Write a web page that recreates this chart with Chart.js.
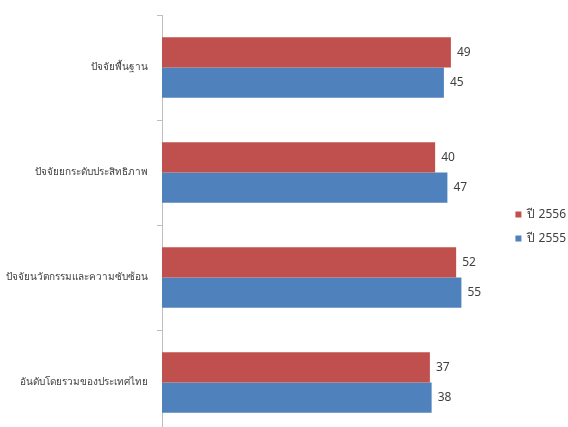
<!DOCTYPE html>
<html>
<head>
<meta charset="utf-8">
<script src="https://cdn.jsdelivr.net/npm/chart.js@4"></script>
<style>
  html, body { margin: 0; padding: 0; background: #fff; overflow: hidden; }
  #wrap { width: 568px; height: 450px; }
</style>
</head>
<body>
<div id="wrap"><canvas id="rank-chart"></canvas></div>
<script>
// Ranking data
const factors = ['ปัจจัยพื้นฐาน', 'ปัจจัยยกระดับประสิทธิภาพ', 'ปัจจัยนวัตกรรมและความซับซ้อน', 'อันดับโดยรวมของประเทศไทย'];
const year2556 = [49, 40, 52, 37];
const year2555 = [45, 47, 55, 38];
const seriesNames = ['ปี 2556', 'ปี 2555'];

const fontFamily = "'Noto Sans', 'DejaVu Sans', sans-serif";
const axisMin = -116; // the original axis does not start at zero

// draw the value just past the end of each bar
const valueLabels = {
    id: 'valueLabels',
    afterDatasetsDraw(chart) {
        const ctx = chart.ctx;
        ctx.save();
        ctx.font = '12px ' + fontFamily;
        ctx.fillStyle = '#404040';
        ctx.textAlign = 'left';
        ctx.textBaseline = 'middle';
        chart.data.datasets.forEach((ds, i) => {
            chart.getDatasetMeta(i).data.forEach((bar, j) => {
                ctx.fillText(ds.data[j], bar.x + 6, bar.y);
            });
        });
        ctx.restore();
    }
};

new Chart(document.getElementById('rank-chart').getContext('2d'), {
    type: 'bar',
    data: {
        labels: factors,
        datasets: [
            {
                label: seriesNames[0],
                data: year2556,
                backgroundColor: '#C0504D',
                base: axisMin,
                categoryPercentage: 0.575,
                barPercentage: 1.0
            },
            {
                label: seriesNames[1],
                data: year2555,
                backgroundColor: '#4F81BD',
                base: axisMin,
                categoryPercentage: 0.575,
                barPercentage: 1.0
            }
        ]
    },
    options: {
        indexAxis: 'y',
        responsive: true,
        maintainAspectRatio: false,
        animation: false,
        layout: { padding: { top: 14, bottom: 11, left: 0, right: -8 } },
        scales: {
            x: {
                display: false,
                min: axisMin,
                max: 79
            },
            y: {
                afterFit(scale) { scale.width = 162; },
                grid: {
                    drawOnChartArea: false,
                    tickLength: 5,
                    color: '#bfbfbf'
                },
                border: { color: '#bfbfbf' },
                ticks: {
                    padding: 9,
                    color: '#404040',
                    font: { family: fontFamily, size: 10 }
                }
            }
        },
        plugins: {
            legend: {
                position: 'right',
                labels: {
                    boxWidth: 6,
                    boxHeight: 6,
                    padding: 12,
                    color: '#404040',
                    font: { family: fontFamily, size: 12 }
                }
            },
            tooltip: { enabled: false }
        }
    },
    plugins: [valueLabels]
});
</script>
</body>
</html>
